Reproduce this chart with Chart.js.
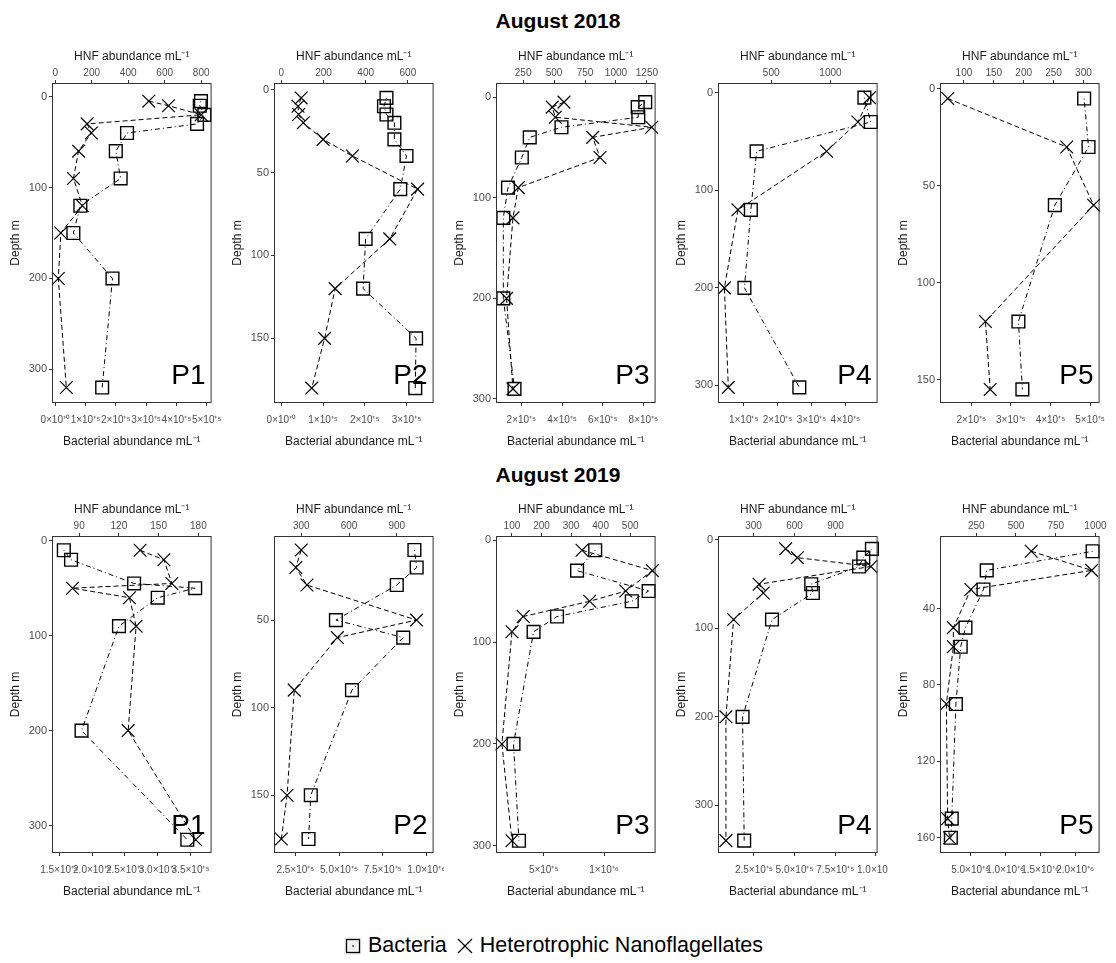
<!DOCTYPE html>
<html>
<head>
<meta charset="utf-8">
<script src="https://cdn.jsdelivr.net/npm/chart.js@4.4.1/dist/chart.umd.min.js"></script>
<style>
  body { margin: 0; background: #fff; width: 1116px; height: 963px; position: relative; overflow: hidden;
         font-family: "Liberation Sans", Arial, sans-serif; }
  .year { position: absolute; left: 0; width: 1116px; text-align: center; font-weight: bold; font-size: 21px; color: #000; }
  canvas { position: absolute; }
  #legend { position: absolute; left: 0; width: 1116px; top: 933px; display: flex; justify-content: center;
            align-items: center; font-size: 21.5px; color: #000; }
  #legend svg { margin: 0 6px 0 0; }
  #legend span { margin-right: 9px; }
</style>
</head>
<body>
<div class="year" style="top:9px">August 2018</div>
<div class="year" style="top:463px">August 2019</div>
<div id="legend">
  <svg width="18" height="18"><rect x="0" y="0" width="18" height="18" fill="#f2f2f2"/><rect x="2.5" y="2.5" width="13" height="13" fill="none" stroke="#000" stroke-width="1.3"/><line x1="8" y1="9" x2="10" y2="9" stroke="#000"/></svg>
  <span>Bacteria</span>
  <svg width="18" height="18"><line x1="2" y1="2" x2="16" y2="16" stroke="#000" stroke-width="1.3"/><line x1="16" y1="2" x2="2" y2="16" stroke="#000" stroke-width="1.3"/></svg>
  <span>Heterotrophic Nanoflagellates</span>
</div>
<script>
// ---- August 2018 profiles (depth in m, bacteria and HNF in cells mL-1) ----
const depthP1_2018 = [5, 10, 20, 30, 40, 60, 90, 120, 150, 200, 320];
const bacP1_2018 = [481000, 477000, 492000, 468000, 237000, 200000, 216000, 83000, 60000, 189000, 155000];
const hnfP1_2018 = [513, 621, 800, 175, 198, 128, 100, 149, 31, 17, 61];

const depthP2_2018 = [5, 10, 15, 20, 30, 40, 60, 90, 120, 150, 180];
const bacP2_2018 = [252000, 246000, 252000, 271000, 271000, 300000, 285000, 202000, 196000, 323000, 321000];
const hnfP2_2018 = [94, 79, 82, 104, 198, 337, 646, 514, 255, 205, 144];

const depthP3_2018 = [5, 10, 20, 30, 40, 60, 90, 120, 200, 290];
const bacP3_2018 = [809000, 772000, 775000, 397000, 241000, 202000, 134000, 111000, 111000, 166000];
const hnfP3_2018 = [580, 485, 510, 1289, 812, 871, 211, 168, 116, 168];

const depthP4_2018 = [5, 30, 60, 120, 200, 302];
const bacP4_2018 = [456000, 475000, 138000, 121000, 102000, 264000];
const hnfP4_2018 = [1329, 1231, 967, 220, 106, 139];

const depthP5_2018 = [5, 30, 60, 120, 155];
const bacP5_2018 = [485000, 496000, 411000, 319000, 329000];
const hnfP5_2018 = [73, 272, 317, 136, 144];

// ---- August 2019 profiles ----
const depthP1_2019 = [10, 20, 45, 50, 60, 90, 200, 315];
const bacP1_2019 = [157000, 168000, 264000, 357000, 300000, 241000, 184000, 345000];
const hnfP1_2019 = [136, 154, 160, 85, 128, 133, 127, 178];

const depthP2_2019 = [10, 20, 30, 50, 60, 90, 150, 175];
const bacP2_2019 = [932000, 945000, 831000, 482000, 868000, 574000, 338000, 325000];
const hnfP2_2019 = [300, 266, 336, 1024, 527, 256, 211, 175];

const depthP3_2019 = [10, 30, 50, 60, 75, 90, 200, 295];
const bacP3_2019 = [926000, 776000, 1368000, 1229000, 610000, 416000, 250000, 295000];
const hnfP3_2019 = [337, 575, 485, 363, 138, 100, 66, 100];

const depthP4_2019 = [10, 20, 30, 50, 60, 90, 200, 340];
const bacP4_2019 = [975000, 922000, 896000, 602000, 612000, 361000, 180000, 190000];
const hnfP4_2019 = [535, 621, 1159, 341, 371, 154, 98, 98];

const depthP5_2019 = [10, 20, 30, 50, 60, 90, 150, 160];
const bacP5_2019 = [2250000, 736000, 690000, 432000, 364000, 295000, 236000, 223000];
const hnfP5_2019 = [596, 976, 216, 106, 106, 62, 70, 82];

// ---- tick values and labels ----
const bacTicks18 = [
  [0, 100000, 200000, 300000, 400000, 500000],
  [0, 100000, 200000, 300000],
  [200000, 400000, 600000, 800000],
  [100000, 200000, 300000, 400000],
  [200000, 300000, 400000, 500000]
];
const bacLabels18 = [
  ['0×10⁺⁰', '1×10⁺⁵', '2×10⁺⁵', '3×10⁺⁵', '4×10⁺⁵', '5×10⁺⁵'],
  ['0×10⁺⁰', '1×10⁺⁵', '2×10⁺⁵', '3×10⁺⁵'],
  ['2×10⁺⁵', '4×10⁺⁵', '6×10⁺⁵', '8×10⁺⁵'],
  ['1×10⁺⁵', '2×10⁺⁵', '3×10⁺⁵', '4×10⁺⁵'],
  ['2×10⁺⁵', '3×10⁺⁵', '4×10⁺⁵', '5×10⁺⁵']
];
const hnfTicks18 = [
  [0, 200, 400, 600, 800],
  [0, 200, 400, 600],
  [250, 500, 750, 1000, 1250],
  [500, 1000],
  [100, 150, 200, 250, 300]
];
const depthTicks18 = [
  [0, 100, 200, 300],
  [0, 50, 100, 150],
  [0, 100, 200, 300],
  [0, 100, 200, 300],
  [0, 50, 100, 150]
];

const bacTicks19 = [
  [150000, 200000, 250000, 300000, 350000],
  [250000, 500000, 750000, 1000000],
  [500000, 1000000],
  [250000, 500000, 750000, 1000000],
  [500000, 1000000, 1500000, 2000000]
];
const bacLabels19 = [
  ['1.5×10⁺⁵', '2.0×10⁺⁵', '2.5×10⁺⁵', '3.0×10⁺⁵', '3.5×10⁺⁵'],
  ['2.5×10⁺⁵', '5.0×10⁺⁵', '7.5×10⁺⁵', '1.0×10⁺⁶'],
  ['5×10⁺⁵', '1×10⁺⁶'],
  ['2.5×10⁺⁵', '5.0×10⁺⁵', '7.5×10⁺⁵', '1.0×10⁺⁶'],
  ['5.0×10⁺⁵', '1.0×10⁺⁶', '1.5×10⁺⁶', '2.0×10⁺⁶']
];
const hnfTicks19 = [
  [90, 120, 150, 180],
  [300, 600, 900],
  [100, 200, 300, 400, 500],
  [300, 600, 900],
  [250, 500, 750, 1000]
];
const depthTicks19 = [
  [0, 100, 200, 300],
  [50, 100, 150],
  [0, 100, 200, 300],
  [0, 100, 200, 300],
  [40, 80, 120, 160]
];

Chart.defaults.font.family = '"Liberation Sans", Arial, sans-serif';
Chart.defaults.color = '#4d4d4d';

// layout of every panel canvas
const PANEL_W = 222;
const Y_AXIS_W = 52;
const TOP_AXIS_H = 47;
const BOTTOM_AXIS_H = 50;
const rowTop = [36, 489];
const rowPlotH = [320, 317];

// axis ranges [min, max] for bacteria, HNF and depth
const panels = [
  { row: 0, col: 0, label: 'P1', depth: depthP1_2018, bac: bacP1_2018, hnf: hnfP1_2018,
    bacRange: [-10500, 516000], hnfRange: [-17.5, 857], depthRange: [-15, 337] },
  { row: 0, col: 1, label: 'P2', depth: depthP2_2018, bac: bacP2_2018, hnf: hnfP2_2018,
    bacRange: [-17700, 365000], hnfRange: [-35, 722], depthRange: [-4, 189] },
  { row: 0, col: 2, label: 'P3', depth: depthP3_2018, bac: bacP3_2018, hnf: hnfP3_2018,
    bacRange: [75000, 860000], hnfRange: [31, 1320], depthRange: [-14, 304] },
  { row: 0, col: 3, label: 'P4', depth: depthP4_2018, bac: bacP4_2018, hnf: hnfP4_2018,
    bacRange: [24000, 495000], hnfRange: [52, 1397], depthRange: [-10, 318] },
  { row: 0, col: 4, label: 'P5', depth: depthP5_2018, bac: bacP5_2018, hnf: hnfP5_2018,
    bacRange: [121000, 524000], hnfRange: [60, 327], depthRange: [-3, 162] },
  { row: 1, col: 0, label: 'P1', depth: depthP1_2019, bac: bacP1_2019, hnf: hnfP1_2019,
    bacRange: [139000, 382000], hnfRange: [69.5, 190], depthRange: [-5, 329] },
  { row: 1, col: 1, label: 'P2', depth: depthP2_2019, bac: bacP2_2019, hnf: hnfP2_2019,
    bacRange: [127000, 1042000], hnfRange: [129, 1131], depthRange: [2, 183] },
  { row: 1, col: 2, label: 'P3', depth: depthP3_2019, bac: bacP3_2019, hnf: hnfP3_2019,
    bacRange: [105000, 1426000], hnfRange: [46, 586], depthRange: [-4, 307] },
  { row: 1, col: 3, label: 'P4', depth: depthP4_2019, bac: bacP4_2019, hnf: hnfP4_2019,
    bacRange: [29000, 1010000], hnfRange: [40, 1208], depthRange: [-4.5, 354] },
  { row: 1, col: 4, label: 'P5', depth: depthP5_2019, bac: bacP5_2019, hnf: hnfP5_2019,
    bacRange: [68000, 2350000], hnfRange: [22, 1026], depthRange: [2, 168] }
];

// frame around the plot area plus the station name in the corner
const panelFrame = {
  id: 'panelFrame',
  afterDatasetsDraw(chart, args, opts) {
    const { ctx, chartArea: a } = chart;
    ctx.save();
    ctx.strokeStyle = '#333';
    ctx.lineWidth = 1;
    ctx.strokeRect(a.left + 0.5, a.top + 0.5, a.width - 1, a.height - 1);
    ctx.fillStyle = '#000';
    ctx.font = '28px "Liberation Sans", Arial, sans-serif';
    ctx.textAlign = 'right';
    ctx.textBaseline = 'alphabetic';
    ctx.fillText(opts.label, a.right - 6, a.bottom - 19);
    ctx.restore();
  }
};

function fixedTicks(values) {
  return scale => { scale.ticks = values.map(v => ({ value: v })); };
}

// plain numbers, no thousands separator
const plain = v => String(v);

function makePanel(p) {
  const yr = p.row === 0 ? 0 : 1;
  const bacTicks = (yr ? bacTicks19 : bacTicks18)[p.col];
  const bacLabels = (yr ? bacLabels19 : bacLabels18)[p.col];
  const hnfTicks = (yr ? hnfTicks19 : hnfTicks18)[p.col];
  const depthTicks = (yr ? depthTicks19 : depthTicks18)[p.col];

  const canvas = document.createElement('canvas');
  canvas.width = PANEL_W;
  canvas.height = TOP_AXIS_H + rowPlotH[p.row] + BOTTOM_AXIS_H;
  canvas.style.left = (PANEL_W * p.col) + 'px';
  canvas.style.top = rowTop[p.row] + 'px';
  document.body.appendChild(canvas);

  const gridOpts = { drawOnChartArea: false, drawTicks: true, tickLength: 3, color: '#333' };

  new Chart(canvas, {
    type: 'scatter',
    data: {
      datasets: [
        {
          label: 'Bacteria',
          data: p.depth.map((d, i) => ({ x: p.bac[i], y: d })),
          xAxisID: 'xb',
          yAxisID: 'y',
          showLine: true,
          borderColor: '#000',
          borderWidth: 1,
          borderDash: [1, 3, 5, 3],
          pointStyle: 'rect',
          pointRadius: 9,
          pointBorderWidth: 1.4,
          pointBorderColor: '#000',
          pointBackgroundColor: 'rgba(0,0,0,0)',
          clip: false
        },
        {
          label: 'Heterotrophic Nanoflagellates',
          data: p.depth.map((d, i) => ({ x: p.hnf[i], y: d })),
          xAxisID: 'xt',
          yAxisID: 'y',
          showLine: true,
          borderColor: '#000',
          borderWidth: 1,
          borderDash: [5, 3],
          pointStyle: 'crossRot',
          pointRadius: 9,
          pointBorderWidth: 1.2,
          pointBorderColor: '#000',
          clip: false
        }
      ]
    },
    options: {
      responsive: false,
      animation: false,
      events: [],
      layout: { padding: { left: 0, right: 4, top: 0, bottom: 0 } },
      plugins: {
        legend: { display: false },
        tooltip: { enabled: false },
        panelFrame: { label: p.label }
      },
      scales: {
        xt: {
          type: 'linear',
          position: 'top',
          min: p.hnfRange[0],
          max: p.hnfRange[1],
          afterBuildTicks: fixedTicks(hnfTicks),
          afterFit: s => { s.height = TOP_AXIS_H; s.paddingLeft = 0; s.paddingRight = 0; },
          grid: gridOpts,
          border: { display: false },
          ticks: { autoSkip: false, maxRotation: 0, padding: 1, font: { size: 10 }, color: '#4d4d4d',
                   callback: plain },
          title: { display: true, text: 'HNF abundance mL⁻¹', color: '#1a1a1a',
                   font: { size: 12 }, padding: { top: 13, bottom: 0 } }
        },
        xb: {
          type: 'linear',
          position: 'bottom',
          min: p.bacRange[0],
          max: p.bacRange[1],
          afterBuildTicks: fixedTicks(bacTicks),
          afterFit: s => { s.height = BOTTOM_AXIS_H; s.paddingLeft = 0; s.paddingRight = 0; },
          grid: gridOpts,
          border: { display: false },
          ticks: { autoSkip: false, maxRotation: 0, padding: 8, font: { size: 10 }, color: '#4d4d4d',
                   callback: (v, i) => bacLabels[i] },
          title: { display: true, text: 'Bacterial abundance mL⁻¹', color: '#1a1a1a',
                   font: { size: 12 }, padding: { top: 0, bottom: 4 } }
        },
        y: {
          type: 'linear',
          position: 'left',
          reverse: true,
          min: p.depthRange[0],
          max: p.depthRange[1],
          afterBuildTicks: fixedTicks(depthTicks),
          afterFit: s => { s.width = Y_AXIS_W; s.paddingTop = 0; s.paddingBottom = 0; },
          grid: gridOpts,
          border: { display: false },
          ticks: { autoSkip: false, padding: 2, font: { size: 11 }, color: '#4d4d4d', callback: plain },
          title: { display: true, text: 'Depth m', color: '#1a1a1a',
                   font: { size: 12 }, padding: { top: 8, bottom: 0 } }
        }
      }
    },
    plugins: [panelFrame]
  });
}

panels.forEach(makePanel);
</script>
</body>
</html>
